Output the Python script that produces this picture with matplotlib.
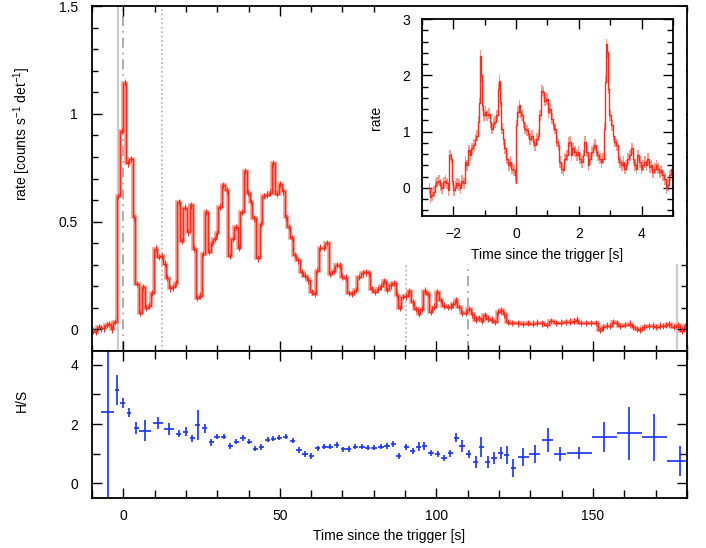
import numpy as np
import matplotlib
matplotlib.use("Agg")
import matplotlib.pyplot as plt
from matplotlib.ticker import MultipleLocator

plt.rcParams['font.family'] = ['Liberation Sans', 'DejaVu Sans']
plt.rcParams['mathtext.fontset'] = 'custom'
plt.rcParams['mathtext.rm'] = 'Liberation Sans'
plt.rcParams['mathtext.it'] = 'Liberation Sans'
plt.rcParams['font.size'] = 10

# light curve: bin start times [s] and rates
lc_t = [-10.0, -9.15, -8.3, -7.45, -6.6, -5.75, -4.9, -4.05, -3.2, -2.1, -1.05, 0.0, 0.85,
        1.9, 3.0, 3.85, 4.9, 6.0, 6.8, 7.9, 8.75, 9.8, 10.9, 11.8, 12.8, 13.7, 14.5, 15.6,
        16.4, 17.1, 18.2, 19.2, 20.3, 21.2, 22.2, 23.1, 24.1, 25.0, 26.1, 26.9, 28.0, 28.8,
        29.7, 30.3, 31.4, 32.5, 33.5, 34.4, 35.5, 36.5, 37.4, 38.5, 39.5, 40.4, 41.2, 42.5,
        43.6, 44.4, 45.3, 46.4, 47.4, 48.5, 49.6, 50.6, 51.5, 52.3, 53.4, 54.3, 55.3, 56.4,
        57.5, 58.6, 59.6, 60.7, 61.5, 62.4, 63.5, 64.5, 65.6, 66.7, 67.7, 68.8, 69.4, 70.5,
        71.6, 72.7, 73.7, 74.8, 75.9, 76.9, 78.0, 78.8, 79.9, 81.0, 82.0, 82.9, 83.8, 84.8,
        85.9, 87.0, 87.8, 88.7, 89.7, 90.8, 91.9, 92.9, 94.0, 94.9, 95.7, 96.8, 97.7, 98.7,
        99.8, 100.9, 101.9, 103.0, 104.1, 105.1, 105.8, 106.6, 107.7, 108.8, 109.8, 110.9,
        112.0, 113.0, 114.1, 115.0, 116.0, 117.1, 118.2, 119.2, 120.3, 121.2, 122.2, 123.3,
        125.0, 127.0, 128.5, 130.0, 131.5, 133.0, 134.5, 136.0, 137.5, 139.0, 140.5, 142.0,
        143.5, 144.5, 145.1, 147.0, 148.5, 150.0, 151.7, 152.8, 153.8, 155.2, 156.0, 157.0,
        158.1, 159.5, 161.1, 162.4, 163.5, 164.5, 165.6, 167.0, 168.5, 169.6, 171.0, 171.8,
        173.0, 173.9, 175.0, 176.6, 177.7, 179.0, 180.1]
lc_rate = [-0.005, -0.012, 0.011, 0.005, 0.005, 0.02, 0.025, 0.0, 0.035, 0.62, 0.92, 1.145, 0.77,
           0.79, 0.52, 0.21, 0.075, 0.195, 0.10, 0.11, 0.17, 0.375, 0.335, 0.34, 0.305, 0.24, 0.19, 0.195,
           0.215, 0.59, 0.41, 0.565, 0.45, 0.575, 0.375, 0.145, 0.157, 0.35, 0.545, 0.36, 0.40, 0.42,
           0.445, 0.57, 0.67, 0.645, 0.34, 0.42, 0.475, 0.38, 0.545, 0.735, 0.635, 0.59, 0.515, 0.33,
           0.49, 0.62, 0.625, 0.635, 0.77, 0.63, 0.675, 0.64, 0.52, 0.475, 0.425, 0.345, 0.32, 0.265,
           0.25, 0.227, 0.173, 0.165, 0.273, 0.38, 0.378, 0.40, 0.258, 0.273, 0.30, 0.296, 0.245, 0.24,
           0.168, 0.165, 0.184, 0.242, 0.26, 0.265, 0.26, 0.188, 0.173, 0.188, 0.20, 0.224, 0.184, 0.204,
           0.215, 0.162, 0.10, 0.15, 0.153, 0.177, 0.126, 0.096, 0.073, 0.096, 0.18, 0.165, 0.08, 0.106,
           0.173, 0.137, 0.11, 0.103, 0.106, 0.116, 0.137, 0.103, 0.076, 0.076, 0.096, 0.07,
           0.045, 0.054, 0.038, 0.065, 0.05, 0.045, 0.034, 0.08, 0.088, 0.07, 0.034, 0.03,
           0.028, 0.025, 0.03, 0.027, 0.032, 0.028, 0.02, 0.04, 0.03, 0.032, 0.034, 0.036,
           0.04, 0.045, 0.03, 0.03, 0.031, 0.029, -0.002, 0.01, 0.018, 0.016, 0.034, 0.03,
           0.016, 0.02, 0.027, 0.012, 0.003, -0.002, 0.012, 0.016, 0.018, 0.012, 0.018, 0.016,
           0.02, 0.025, 0.012, 0.02, -0.005, 0.016, 0.0]
lc_err = 0.015
lc_end = 181.0

# zoomed light curve (inset)
ins_t = [-2.77, -2.72, -2.67, -2.61, -2.56, -2.51, -2.46, -2.40, -2.35, -2.30, -2.24, -2.19, -2.14,
         -2.11, -2.05, -2.01, -1.98, -1.93, -1.87, -1.82, -1.77, -1.71, -1.66, -1.61, -1.56, -1.50,
         -1.45, -1.40, -1.34, -1.29, -1.24, -1.19, -1.15, -1.12, -1.09, -1.06, -1.03, -0.97, -0.92,
         -0.87, -0.81, -0.76, -0.71, -0.66, -0.60, -0.56, -0.52, -0.49, -0.44, -0.39, -0.34, -0.29,
         -0.23, -0.18, -0.13, -0.07, -0.02, 0.00, 0.02, 0.06, 0.11, 0.14, 0.19, 0.24, 0.30, 0.35,
         0.40, 0.46, 0.51, 0.56, 0.61, 0.67, 0.72, 0.77, 0.83, 0.88, 0.93, 0.98, 1.04, 1.09, 1.14,
         1.20, 1.25, 1.30, 1.35, 1.41, 1.46, 1.51, 1.57, 1.62, 1.67, 1.72, 1.76, 1.83, 1.88, 1.94,
         1.99, 2.04, 2.10, 2.15, 2.20, 2.25, 2.31, 2.36, 2.41, 2.47, 2.52, 2.57, 2.62, 2.68, 2.73,
         2.78, 2.81, 2.85, 2.88, 2.91, 2.94, 2.99, 3.05, 3.10, 3.15, 3.21, 3.26, 3.31, 3.37, 3.42,
         3.47, 3.52, 3.58, 3.63, 3.68, 3.74, 3.79, 3.84, 3.89, 3.95, 4.00, 4.05, 4.11, 4.16, 4.21,
         4.26, 4.32, 4.37, 4.42, 4.48, 4.53, 4.58, 4.63, 4.69, 4.74, 4.79, 4.85, 4.90, 4.95]
ins_rate = [-0.01, -0.16, -0.13, -0.07, 0.05, 0.10, 0.13, 0.05, -0.01, 0.10, 0.13, 0.08, -0.04,
            0.58, 0.52, 0.13, -0.04, 0.02, 0.08, 0.05, -0.01, 0.13, 0.08, 0.46, 0.40, 0.67,
            0.58, 0.70, 0.76, 0.85, 0.93, 1.17, 1.50, 2.35, 2.0, 1.47, 1.29, 1.35, 1.29,
            1.32, 1.17, 1.05, 1.14, 1.17, 1.29, 1.76, 1.90, 1.53, 1.05, 0.87, 0.70, 0.52,
            0.40, 0.46, 0.34, 0.31, 0.22, 0.08, 1.11, 1.35, 1.47, 1.35, 1.29, 1.17, 1.05, 1.02,
            0.96, 0.87, 0.93, 0.82, 0.76, 0.87, 0.93, 1.29, 1.73, 1.70, 1.55, 1.58, 1.35, 1.41, 1.23,
            1.11, 1.05, 0.82, 0.76, 0.46, 0.34, 0.31, 0.52, 0.58, 0.80, 0.82, 0.58, 0.70, 0.64, 0.58,
            0.64, 0.52, 0.46, 0.58, 0.82, 0.64, 0.40, 0.52, 0.64, 0.70, 0.76, 0.64, 0.58, 0.52, 0.46,
            0.52, 1.05, 1.88, 2.55, 2.41, 1.76, 1.29, 1.11, 0.93, 0.82, 0.76, 0.52, 0.46, 0.40, 0.46,
            0.34, 0.40, 0.52, 0.58, 0.70, 0.52, 0.40, 0.34, 0.58, 0.46, 0.34, 0.40, 0.46, 0.40, 0.52,
            0.37, 0.40, 0.28, 0.34, 0.40, 0.34, 0.28, 0.31, 0.22, 0.16, -0.01, 0.05, 0.22, 0.34]
ins_err = 0.1

# hardness ratio H/S
hs_t = [-5.0, -2.0, -0.2, 1.9, 4.1, 7.05, 11.0, 14.7, 17.7, 19.9, 22.0, 23.8, 26.0, 28.1, 29.9,
        32.1, 34.2, 36.1, 38.2, 40.2, 42.2, 44.1, 46.1, 47.9, 49.8, 51.9, 54.1, 56.1, 58.0, 60.1,
        62.1, 64.2, 66.0, 68.2, 70.3, 72.0, 74.1, 76.2, 78.0, 80.1, 82.3, 84.2, 86.3, 87.9, 90.4,
        92.4, 94.3, 96.2, 98.3, 100.4, 102.4, 104.5, 106.4, 108.2, 110.3, 112.5, 114.3, 116.4,
        118.4, 120.5, 122.4, 124.6, 127.8, 131.4, 135.5, 139.5, 145.6, 153.6, 161.6, 169.6, 177.7]
hs_val = [2.42, 3.15, 2.72, 2.39, 1.87, 1.78, 2.03, 1.82, 1.67, 1.74, 1.52, 1.97, 1.86, 1.38, 1.57,
          1.57, 1.26, 1.41, 1.53, 1.41, 1.17, 1.23, 1.47, 1.51, 1.54, 1.57, 1.44, 1.12, 0.99, 0.92,
          1.18, 1.24, 1.24, 1.29, 1.15, 1.16, 1.24, 1.24, 1.20, 1.20, 1.24, 1.26, 1.33, 0.93, 1.22,
          1.09, 1.24, 1.26, 1.01, 1.00, 0.84, 1.01, 1.54, 1.26, 0.99, 0.73, 1.22, 0.73,
          0.84, 1.01, 0.96, 0.51, 0.88, 0.99, 1.46, 0.99, 1.01, 1.57, 1.69, 1.55, 0.75]
hs_xerr = [2.1, 0.5, 0.7, 0.7, 0.8, 1.9, 1.6, 1.6, 0.85, 0.85, 0.8, 0.85, 0.85, 0.85, 0.85,
           0.85, 0.85, 0.85, 0.85, 0.85, 0.85, 0.85, 0.85, 0.85, 0.85, 0.85, 0.85, 0.85, 0.85, 0.85,
           0.85, 0.85, 0.85, 0.85, 0.85, 0.85, 0.85, 0.85, 0.85, 0.85, 0.85, 0.85, 0.85, 0.85, 0.85,
           0.85, 0.85, 0.85, 0.85, 0.85, 0.85, 0.85, 0.85, 0.85, 0.85, 0.85, 0.85, 0.85,
           0.85, 0.85, 0.85, 0.9, 1.8, 1.8, 1.8, 1.8, 4.0, 4.0, 4.0, 4.0, 4.0]
hs_yerr = [3.0, 0.5, 0.17, 0.15, 0.2, 0.35, 0.2, 0.2, 0.12, 0.15, 0.12, 0.5, 0.15, 0.12, 0.09,
           0.09, 0.09, 0.09, 0.09, 0.09, 0.09, 0.09, 0.09, 0.09, 0.09, 0.09, 0.09, 0.09, 0.09, 0.09,
           0.09, 0.09, 0.09, 0.09, 0.09, 0.09, 0.09, 0.09, 0.09, 0.09, 0.09, 0.09, 0.09, 0.1, 0.1,
           0.1, 0.15, 0.12, 0.1, 0.1, 0.1, 0.12, 0.15, 0.2, 0.15, 0.2, 0.35, 0.2,
           0.2, 0.2, 0.3, 0.3, 0.3, 0.3, 0.4, 0.25, 0.2, 0.5, 0.9, 0.8, 0.5]

# marker lines: (time, style, color, height fraction)
vlines = [(-1.6, '-', '#cccccc', 1.0), (0.0, (0, (6, 3, 1, 3)), '#a0a0a0', 1.0),
          (12.4, ':', '#b0b0b0', 1.0), (90.4, ':', '#b0b0b0', 1.0),
          (110.0, (0, (6, 3, 1, 3)), '#a0a0a0', 1.0), (176.8, '-', '#cccccc', 1.0)]

red = '#ff2a1a'
light_red = '#ff9a8a'
blue = '#1432ff'


def style_axis(ax):
    ax.tick_params(which='both', direction='in', top=True, right=True, width=1.0)
    ax.tick_params(which='major', length=7, pad=10)
    ax.tick_params(which='minor', length=4)
    for s in ax.spines.values():
        s.set_linewidth(1.3)


fig = plt.figure(figsize=(7.06, 5.48), dpi=100)
ax1 = fig.add_axes([0.1303, 0.3595, 0.8426, 0.6295])
ax2 = fig.add_axes([0.1303, 0.0912, 0.8426, 0.2683])

# top light curve
t_edges = np.append(lc_t, lc_end)
r = np.array(lc_rate)
centers = 0.5 * (t_edges[:-1] + t_edges[1:])
ax1.errorbar(centers, r, yerr=lc_err, fmt='none', ecolor=red, elinewidth=0.7)
ax1.stairs(r, t_edges, color=light_red, lw=2.6)
ax1.stairs(r, t_edges, color=red, lw=1.0)
for x, ls, c, h in vlines:
    ax1.axvline(x, ymin=0, ymax=h, ls=ls, color=c, lw=1.6 if ls == '-' else 1.2, zorder=0)

# white backdrop behind the inset and its labels (inside the main panel)
ax1.add_patch(plt.Rectangle((0.509, 0.252), 0.49, 0.745, transform=ax1.transAxes,
                            facecolor='white', edgecolor='none', zorder=2.2))

ax1.set_xlim(-10, 180)
ax1.set_ylim(-0.1, 1.5)
ax1.xaxis.set_major_locator(MultipleLocator(50))
ax1.xaxis.set_minor_locator(MultipleLocator(10))
ax1.yaxis.set_major_locator(MultipleLocator(0.5))
ax1.yaxis.set_minor_locator(MultipleLocator(0.1))
ax1.set_yticks([0, 0.5, 1, 1.5], ['0', '0.5', '1', '1.5'])
ax1.tick_params(labelbottom=False)
style_axis(ax1)
fig.text(0.031, 0.755, r'rate [counts s$^{-1}$ det$^{-1}$]', rotation=90, ha='center', va='center')

# hardness ratio
ax2.errorbar(hs_t, hs_val, xerr=hs_xerr, yerr=hs_yerr, fmt='none', ecolor=blue, elinewidth=1.2)
ax2.set_xlim(-10, 180)
ax2.set_ylim(-0.5, 4.47)
ax2.xaxis.set_major_locator(MultipleLocator(50))
ax2.xaxis.set_minor_locator(MultipleLocator(10))
ax2.yaxis.set_major_locator(MultipleLocator(2))
ax2.yaxis.set_minor_locator(MultipleLocator(1))
style_axis(ax2)
ax2.tick_params(which='minor', length=6)
ax2.tick_params(axis='x', pad=8)
ax2.set_xlabel('Time since the trigger [s]', labelpad=4)
fig.text(0.031, 0.27, 'H/S', rotation=90, ha='center', va='center')

# inset
ax3 = fig.add_axes([0.5973, 0.6058, 0.356, 0.3595])
ins_t_arr = np.array(ins_t)
ins_r_arr = np.array(ins_rate)
ax3.fill_between(ins_t_arr, ins_r_arr - ins_err, ins_r_arr + ins_err, step='mid',
                 color=light_red, lw=0)
ax3.step(ins_t_arr, ins_r_arr, where='mid', color=red, lw=1.0)
ax3.set_xlim(-3, 5)
ax3.set_ylim(-0.5, 3)
ax3.xaxis.set_major_locator(MultipleLocator(2))
ax3.xaxis.set_minor_locator(MultipleLocator(1))
ax3.yaxis.set_major_locator(MultipleLocator(1))
ax3.yaxis.set_minor_locator(MultipleLocator(0.2))
style_axis(ax3)
ax3.tick_params(which='major', pad=8)
ax3.tick_params(which='minor', length=4)
ax3.set_xticks([-2, 0, 2, 4], ['\u22122', '0', '2', '4'])
ax3.set_xlabel('Time since the trigger [s]', labelpad=5)
ax3.set_ylabel('rate', labelpad=14)
ax3.set_zorder(3)

fig.savefig('out.png', dpi=100)
